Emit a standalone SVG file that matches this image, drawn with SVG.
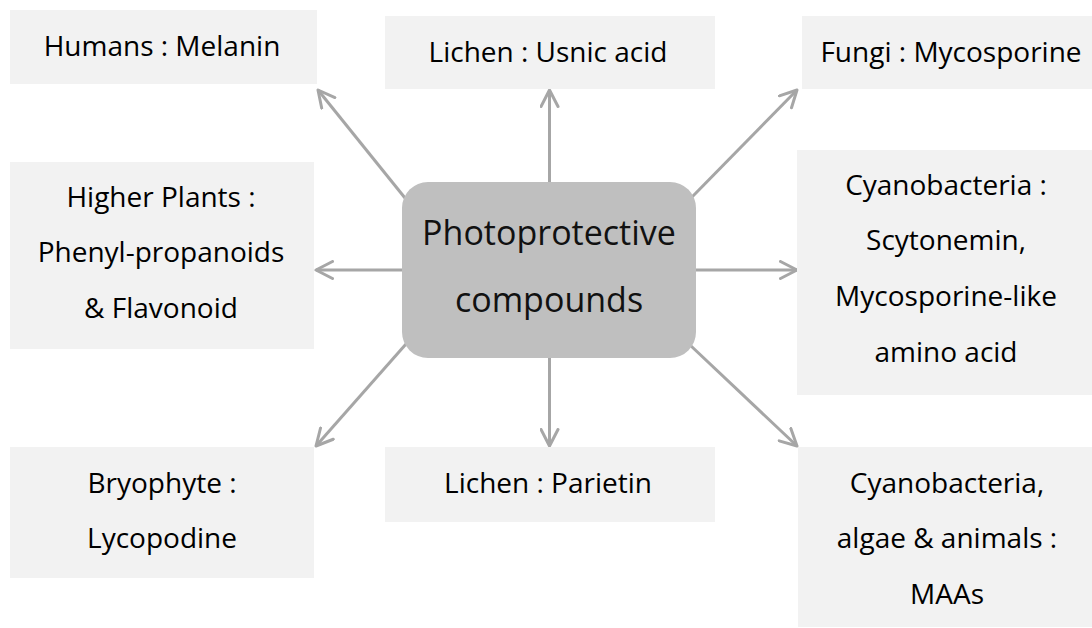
<svg xmlns="http://www.w3.org/2000/svg" width="1092" height="628" viewBox="0 0 1092 628">
  <defs>
    <marker id="arrow" markerUnits="userSpaceOnUse" viewBox="0 0 20 20" refX="18" refY="10" markerWidth="20" markerHeight="20" orient="auto">
      <path d="M1.5,1.5 L18,10 L1.5,18.5" fill="none" stroke="#a6a6a6" stroke-width="3" stroke-linecap="round" stroke-linejoin="round"/>
    </marker>
  </defs>
  <style>
    .box { fill: #f2f2f2; }
    .center { fill: #bfbfbf; }
    .lbl { font-family: "Open Sans", "Noto Sans", "DejaVu Sans", sans-serif; font-size: 28px; fill: #000; text-anchor: middle; }
    .big { font-family: "Open Sans", "Noto Sans", "DejaVu Sans", sans-serif; font-size: 34px; fill: #111; text-anchor: middle; }
    .conn line { stroke: #a6a6a6; stroke-width: 3; fill: none; marker-end: url(#arrow); }
  </style>
  <rect width="1092" height="628" fill="#ffffff"/>

  <g id="connectors" class="conn">
    <line x1="549.5" y1="185" x2="549.5" y2="90"/>
    <line x1="549.5" y1="355" x2="549.5" y2="446"/>
    <line x1="405" y1="270" x2="316" y2="270"/>
    <line x1="693" y1="270" x2="797" y2="270"/>
    <line x1="405" y1="198" x2="318" y2="90"/>
    <line x1="692" y1="197" x2="797" y2="90"/>
    <line x1="406" y1="344" x2="316" y2="446"/>
    <line x1="690" y1="345" x2="797" y2="446"/>
  </g>

  <g id="center">
    <rect class="center" x="402" y="182" width="294" height="176" rx="26" ry="26"/>
    <text class="big" x="549" y="245">Photoprotective</text>
    <text class="big" x="549" y="312">compounds</text>
  </g>

  <g id="humans">
    <rect class="box" x="10" y="10" width="307" height="74"/>
    <text class="lbl" x="162" y="56">Humans : Melanin</text>
  </g>

  <g id="lichen-usnic">
    <rect class="box" x="385" y="16" width="330" height="73"/>
    <text class="lbl" x="548" y="62">Lichen : Usnic acid</text>
  </g>

  <g id="fungi">
    <rect class="box" x="802" y="16" width="290" height="73"/>
    <text class="lbl" x="951" y="62">Fungi : Mycosporine</text>
  </g>

  <g id="higher-plants">
    <rect class="box" x="10" y="162" width="304" height="187"/>
    <text class="lbl" x="161" y="207">Higher Plants :</text>
    <text class="lbl" x="161" y="262">Phenyl-propanoids</text>
    <text class="lbl" x="161" y="318">&amp; Flavonoid</text>
  </g>

  <g id="cyanobacteria">
    <rect class="box" x="797" y="150" width="295" height="245"/>
    <text class="lbl" x="946" y="195">Cyanobacteria :</text>
    <text class="lbl" x="946" y="250">Scytonemin,</text>
    <text class="lbl" x="946" y="306">Mycosporine-like</text>
    <text class="lbl" x="946" y="362">amino acid</text>
  </g>

  <g id="bryophyte">
    <rect class="box" x="10" y="447" width="304" height="131"/>
    <text class="lbl" x="162" y="493">Bryophyte :</text>
    <text class="lbl" x="162" y="548">Lycopodine</text>
  </g>

  <g id="lichen-parietin">
    <rect class="box" x="385" y="447" width="330" height="75"/>
    <text class="lbl" x="548" y="493">Lichen : Parietin</text>
  </g>

  <g id="cyanobacteria-algae">
    <rect class="box" x="798" y="447" width="294" height="180"/>
    <text class="lbl" x="947" y="493">Cyanobacteria,</text>
    <text class="lbl" x="947" y="548">algae &amp; animals :</text>
    <text class="lbl" x="947" y="604">MAAs</text>
  </g>
</svg>
